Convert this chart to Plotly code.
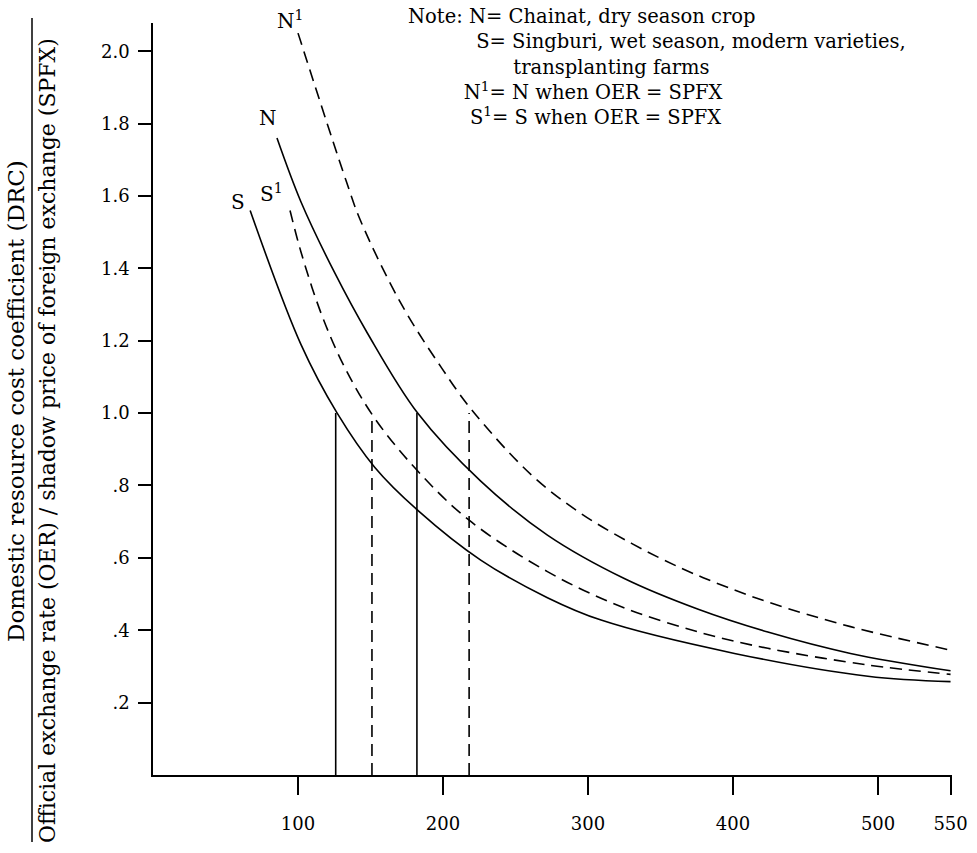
import plotly.graph_objects as go

# ---- data ----
s_x = [67, 102, 127, 153, 183, 226, 272, 309, 401, 493, 550]
s_y = [1.56, 1.19, 1.00, 0.85, 0.73, 0.594, 0.49, 0.428, 0.336, 0.273, 0.258]

s1_x = [94.5, 102, 116, 132, 153, 183, 218, 272, 323, 378, 424, 493, 550]
s1_y = [1.56, 1.446, 1.275, 1.128, 0.985, 0.838, 0.704, 0.562, 0.465, 0.393, 0.35, 0.304, 0.278]

n_x = [85.5, 102, 125, 148, 182.5, 226, 272, 325, 376, 424, 481, 550]
n_y = [1.76, 1.584, 1.39, 1.22, 1.0, 0.812, 0.663, 0.543, 0.458, 0.395, 0.336, 0.288]

n1_x = [100, 133, 143, 171, 199, 220, 261, 295, 330, 364, 392, 424, 481, 550]
n1_y = [2.05, 1.644, 1.533, 1.303, 1.125, 1.008, 0.829, 0.723, 0.64, 0.572, 0.525, 0.478, 0.41, 0.345]

# break-even exchange rates (DRC = 1) for S, S1, N, N1
drop_x = [126, 151, 182, 218]
drop_y = [1.0, 0.98, 1.0, 1.0]
drop_dash = ["solid", "dash", "solid", "dash"]

curve_labels = ["S", "S<sup>1</sup>", "N", "N<sup>1</sup>"]
label_x = [58.6, 82, 79.3, 94.5]
label_y = [1.583, 1.608, 1.815, 2.086]

x_ticks = [100, 200, 300, 400, 500, 550]
x_ticktext = ["100", "200", "300", "400", "500", "550"]
y_ticks = [0.2, 0.4, 0.6, 0.8, 1.0, 1.2, 1.4, 1.6, 1.8, 2.0]
y_ticktext = [".2", ".4", ".6", ".8", "1.0", "1.2", "1.4", "1.6", "1.8", "2.0"]

note_lines = [
    "Note: N= Chainat, dry season crop",
    "S= Singburi, wet season, modern varieties,",
    "transplanting farms",
    "N<sup>1</sup>= N when OER = SPFX",
    "S<sup>1</sup>= S when OER = SPFX",
]
note_indent = [0, 11, 17, 9, 10]  # leading no-break spaces per line
ytitle_top = "Domestic resource cost coefficient (DRC)"
ytitle_bottom = "Official exchange rate (OER) / shadow price of foreign exchange (SPFX)"

# ---- layout geometry ----
W, H = 977, 853
ML, MR, MT, MB = 153, 25, 23, 78
PW, PH = W - ML - MR, H - MT - MB
X_MAX, Y_MAX = 551, 2.078
FONT = "DejaVu Serif"
DASH = "12px,7px"


def px(xp):
    return (xp - ML) / PW


def py(yp):
    return (H - MB - yp) / PH


fig = go.Figure()

for xs, ys, dash in [(s_x, s_y, "solid"), (s1_x, s1_y, DASH), (n_x, n_y, "solid"), (n1_x, n1_y, DASH)]:
    fig.add_trace(go.Scatter(x=xs, y=ys, mode="lines",
                             line=dict(color="black", width=1.6, dash=dash, shape="spline", smoothing=1.0),
                             showlegend=False, hoverinfo="skip"))

for xv, yv, d in zip(drop_x, drop_y, drop_dash):
    fig.add_trace(go.Scatter(x=[xv, xv], y=[0, yv], mode="lines",
                             line=dict(color="black", width=1.6, dash=DASH if d == "dash" else "solid"),
                             showlegend=False, hoverinfo="skip"))

for t, lx, ly in zip(curve_labels, label_x, label_y):
    fig.add_annotation(text=t, xref="x", yref="paper", x=lx, y=ly / Y_MAX, showarrow=False,
                       xanchor="center", yanchor="middle", font=dict(family=FONT, size=20, color="black"))

note_text = "<br>".join("\u00a0" * n + t for n, t in zip(note_indent, note_lines))
fig.add_annotation(text=note_text, xref="paper", yref="paper", x=px(407), y=py(67), xanchor="left",
                   yanchor="middle", align="left", showarrow=False, borderpad=0,
                   font=dict(family=FONT, size=19.5, color="black"))

fig.add_annotation(text=ytitle_top, xref="paper", yref="paper", x=px(16), y=py(401), textangle=-90,
                   xanchor="center", yanchor="middle", showarrow=False, borderpad=0,
                   font=dict(family=FONT, size=23, color="black"))
fig.add_annotation(text=ytitle_bottom, xref="paper", yref="paper", x=px(47), y=py(441), textangle=-90,
                   xanchor="center", yanchor="middle", showarrow=False, borderpad=0,
                   font=dict(family=FONT, size=22, color="black"))
fig.add_shape(type="line", xref="paper", yref="paper", x0=px(32), x1=px(32), y0=py(18), y1=py(842),
              line=dict(color="black", width=1.5))

fig.update_xaxes(range=[0, X_MAX], tickvals=x_ticks, ticktext=x_ticktext, ticks="outside", ticklen=18, tickwidth=1.5,
                 tickcolor="black", showline=True, linecolor="black", linewidth=1.6, showgrid=False, zeroline=False,
                 tickfont=dict(family=FONT, size=18, color="black"), ticklabelstandoff=14)
fig.update_yaxes(range=[0, Y_MAX], tickvals=y_ticks, ticktext=y_ticktext, ticks="outside", ticklen=13, tickwidth=1.5,
                 tickcolor="black", showline=True, linecolor="black", linewidth=1.6, showgrid=False, zeroline=False,
                 tickfont=dict(family=FONT, size=18, color="black"), ticklabelstandoff=5)

fig.update_layout(width=W, height=H, margin=dict(l=ML, r=MR, t=MT, b=MB, autoexpand=False),
                  plot_bgcolor="white", paper_bgcolor="white", showlegend=False)

# remove the browser's default 8px page margin so the figure fills the window exactly
fig.write_html("out.html", config={"displayModeBar": False},
               post_script="document.body.style.margin='0px';")
